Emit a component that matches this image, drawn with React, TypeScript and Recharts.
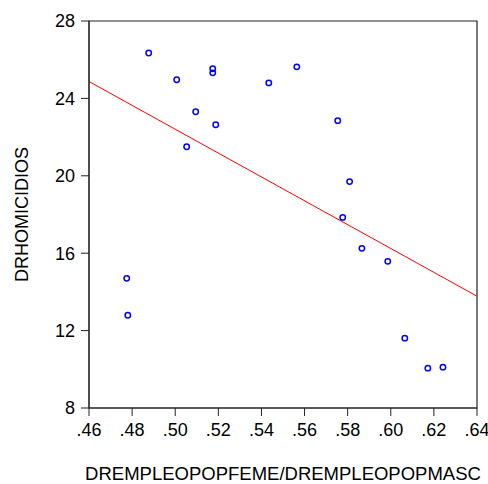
import React from 'react';
import {
    ScatterChart,
    Scatter,
    XAxis,
    YAxis,
    ReferenceLine,
    ReferenceArea,
} from 'recharts';

// ratio of female / male employment-population (x) vs homicide rate (y)
const ratioValues = [
    0.4877, 0.5007, 0.5174, 0.5174, 0.5434, 0.5564, 0.5095, 0.5188, 0.5053, 0.5754,
    0.5809, 0.5777, 0.5866, 0.5986, 0.4775, 0.4780, 0.6065, 0.6172, 0.6242,
];
const homicideValues = [
    26.35, 24.96, 25.53, 25.32, 24.80, 25.63, 23.31, 22.64, 21.50, 22.85,
    19.70, 17.85, 16.25, 15.58, 14.70, 12.79, 11.61, 10.06, 10.11,
];

const xTicks = [0.46, 0.48, 0.5, 0.52, 0.54, 0.56, 0.58, 0.6, 0.62, 0.64];
const yTicks = [8, 12, 16, 20, 24, 28];

const points = ratioValues.map((x, i) => ({ x, y: homicideValues[i] }));

// least squares fit
const n = points.length;
const mx = ratioValues.reduce((a, b) => a + b, 0) / n;
const my = homicideValues.reduce((a, b) => a + b, 0) / n;
let sxy = 0;
let sxx = 0;
points.forEach((p) => {
    sxy += (p.x - mx) * (p.y - my);
    sxx += (p.x - mx) * (p.x - mx);
});
const slope = sxy / sxx;
const intercept = my - slope * mx;
const xMin = xTicks[0];
const xMax = xTicks[xTicks.length - 1];
const yMin = yTicks[0];
const yMax = yTicks[yTicks.length - 1];

const FONT = '"Liberation Sans", Arial, sans-serif';
const tickStyle = { fill: '#000', fontSize: 18, fontFamily: FONT };

const fmtX = (v: number) => v.toFixed(2).replace(/^0/, '');

const OpenCircle = (props: any) => {
    const { cx, cy } = props;
    return <circle cx={cx} cy={cy} r={2.7} fill="none" stroke="#0000ff" strokeWidth={1.5} />;
};

export default function App() {
    return (
        <div style={{ position: 'absolute', left: 0, top: 0, background: '#fff' }}>
            <ScatterChart
                width={488}
                height={484}
                margin={{ top: 21, right: 11, left: 0, bottom: 0 }}
            >
                <XAxis
                    dataKey="x"
                    type="number"
                    domain={[xMin, xMax]}
                    ticks={xTicks}
                    tickFormatter={fmtX}
                    tick={tickStyle}
                    tickSize={8}
                    tickMargin={7}
                    height={76}
                    stroke="#222"
                    interval={0}
                    label={{
                        value: 'DREMPLEOPOPFEME/DREMPLEOPOPMASC',
                        position: 'insideBottom',
                        offset: 4,
                        style: { fill: '#000', fontSize: 18.5, fontFamily: FONT },
                    }}
                />
                <YAxis
                    dataKey="y"
                    type="number"
                    domain={[yMin, yMax]}
                    ticks={yTicks}
                    tick={tickStyle}
                    tickSize={8}
                    tickMargin={6}
                    width={89}
                    stroke="#222"
                    interval={0}
                    label={{
                        value: 'DRHOMICIDIOS',
                        angle: -90,
                        position: 'insideLeft',
                        offset: 22,
                        style: { fill: '#000', fontSize: 18, fontFamily: FONT, textAnchor: 'middle' },
                    }}
                />
                {/* box around the plot */}
                <ReferenceArea
                    x1={xMin}
                    x2={xMax}
                    y1={yMin}
                    y2={yMax}
                    fill="none"
                    stroke="#222"
                    strokeWidth={1.2}
                    ifOverflow="visible"
                />
                <ReferenceLine
                    segment={[
                        { x: xMin, y: intercept + slope * xMin },
                        { x: xMax, y: intercept + slope * xMax },
                    ]}
                    stroke="#ff0000"
                    strokeWidth={1}
                />
                <Scatter
                    data={points}
                    shape={OpenCircle}
                    isAnimationActive={false}
                />
            </ScatterChart>
        </div>
    );
}
